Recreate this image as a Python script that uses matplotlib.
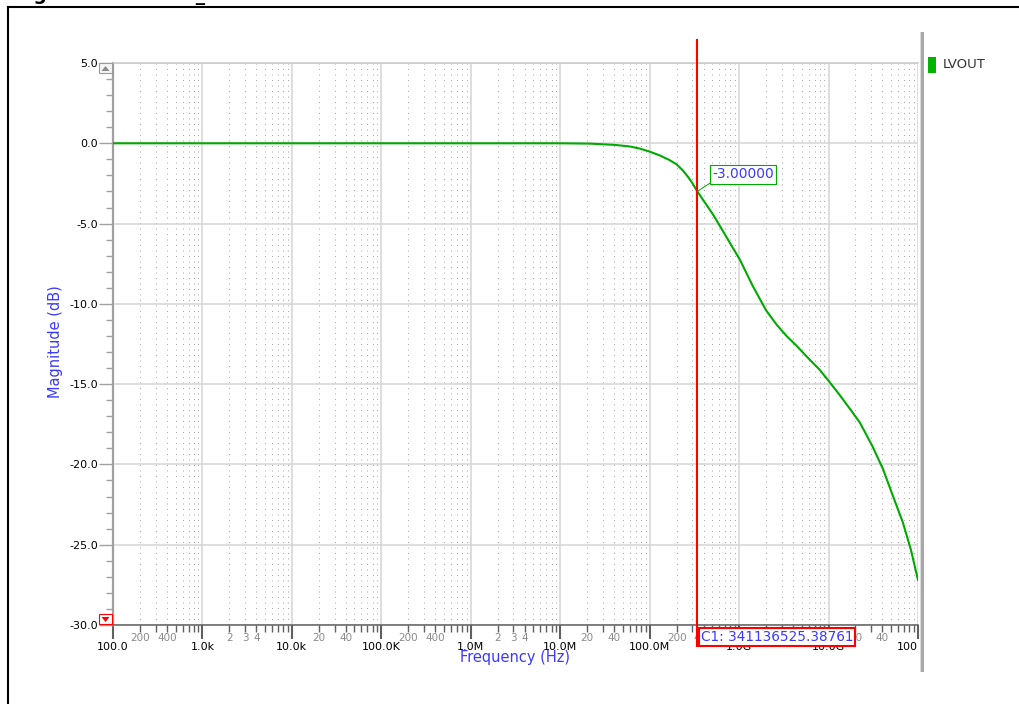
import matplotlib
matplotlib.use('Agg')
import matplotlib.pyplot as plt
import numpy as np

from matplotlib import ticker
from matplotlib.patches import Rectangle, Polygon
from matplotlib.lines import Line2D


# values
freq_hz = [1e2, 1e7, 2.14e7, 4.07e7, 6.03e7, 7.76e7, 1.0e8, 1.29e8, 1.66e8,
           2.0e8, 2.34e8, 2.69e8, 3.02e8, 3.41e8, 5.13e8, 7.24e8, 1.02e9,
           1.41e9, 2.0e9, 2.63e9, 3.39e9, 4.37e9, 5.62e9, 7.94e9, 1.02e10,
           1.32e10, 1.74e10, 2.24e10, 3.09e10, 4.07e10, 5.25e10, 6.76e10,
           8.32e10, 1.0e11]
magnitude_db = [0.0, 0.0, -0.02, -0.1, -0.2, -0.33, -0.52, -0.75, -1.04,
                -1.31, -1.68, -2.1, -2.5, -3.0, -4.45, -5.85, -7.25,
                -8.85, -10.4, -11.3, -12.0, -12.6, -13.25, -14.1, -14.85,
                -15.65, -16.55, -17.4, -18.86, -20.3, -21.97, -23.6,
                -25.3, -27.2]
series_name = 'LVOUT'
cursor_freq = 341136525.38761
cursor_db = -3.0
decade_ticks = [1e2, 1e3, 1e4, 1e5, 1e6, 1e7, 1e8, 1e9, 1e10, 1e11]
decade_labels = ['100.0', '1.0k', '10.0k', '100.0K', '1.0M', '10.0M',
                 '100.0M', '1.0G', '10.0G', '100']
y_ticks = [5.0, 0.0, -5.0, -10.0, -15.0, -20.0, -25.0, -30.0]


# look
W, H = 1020, 704
curve_color = '#00aa00'
legend_green = '#00b400'
label_blue = '#3a3aff'
cursor_red = '#ff0000'
major_grid = '#d4d4d4'
minor_grid = '#a8a8a8'
axis_grey = '#a0a0a0'
axis_dark = '#606060'

plt.rcParams.update({'font.family': 'DejaVu Sans',
                     'axes.unicode_minus': False})


def fx(x):
    return x / W


def fy(y):
    return 1 - y / H


def minor_label(f, pos):
    d = int(np.floor(np.log10(f) + 1e-9))
    m = int(round(f / 10**d))
    k = d % 3
    if k == 0 and m in (2, 3, 4):
        return str(m)
    if k == 1 and m in (2, 4):
        return str(m * 10)
    if k == 2 and m in (2, 4):
        return str(m * 100)
    return ''


fig = plt.figure(figsize=(W / 100, H / 100), dpi=100)
ax = fig.add_axes([fx(113), fy(625), (918 - 113) / W, (625 - 63) / H])

ax.semilogx(freq_hz, magnitude_db, color=curve_color, lw=1.5, zorder=3)

ax.set_xlim(1e2, 1e11)
ax.set_ylim(-30, 5)

# x axis
ax.set_xticks(decade_ticks)
ax.set_xticklabels(decade_labels)
ax.xaxis.set_minor_locator(ticker.LogLocator(base=10, subs=np.arange(2, 10), numticks=100))
ax.xaxis.set_minor_formatter(ticker.FuncFormatter(minor_label))
ax.tick_params(axis='x', which='major', direction='out', length=10, width=1.5,
               color=axis_dark, labelsize=8, labelcolor='black', pad=2)
ax.tick_params(axis='x', which='minor', direction='out', length=5, width=1,
               color=axis_dark, labelsize=7.5, labelcolor='#8a8a8a', pad=1)
ax.get_xticklabels()[-1].set_ha('right')

# y axis
ax.set_yticks(y_ticks)
ax.set_yticklabels(['%.1f' % v for v in y_ticks])
ax.yaxis.set_minor_locator(ticker.MultipleLocator(1))
ax.tick_params(axis='y', which='major', direction='out', length=10, width=1,
               color=axis_grey, labelsize=8, labelcolor='black', pad=1)
ax.tick_params(axis='y', which='minor', direction='out', length=5, width=1,
               color=axis_grey)

# grid
ax.grid(which='major', color=major_grid, lw=1.1, ls='-', zorder=0)
ax.grid(which='minor', axis='x', color=minor_grid, lw=0.72,
        ls=(0, (1, 4.5)), zorder=0)
ax.set_axisbelow(True)

ax.spines['right'].set_visible(False)
ax.spines['top'].set_color('#c8c8c8')
ax.spines['top'].set_linewidth(1.1)
ax.spines['left'].set_color(axis_grey)
ax.spines['left'].set_linewidth(1.6)
ax.spines['bottom'].set_color(axis_dark)
ax.spines['bottom'].set_linewidth(1.1)

ax.set_xlabel('Frequency (Hz)', color=label_blue, fontsize=10.5)
ax.xaxis.set_label_coords(0.5, -0.057)
ax.xaxis.label.set_va('center')
ax.set_ylabel('Magnitude (dB)', color=label_blue, fontsize=10.5)
ax.yaxis.set_label_coords(-0.072, 0.504)
ax.yaxis.label.set_va('center')

# cursor C1
ax.axvline(cursor_freq, ymin=-0.037, ymax=1.041, color=cursor_red, lw=1.5,
           clip_on=False, zorder=4)
ax.annotate('%.5f' % cursor_db, xy=(cursor_freq, cursor_db),
            xytext=(46, 17), textcoords='offset pixels',
            ha='center', va='center', fontsize=10, color=label_blue,
            bbox=dict(boxstyle='square,pad=0.15', fc='white', ec=curve_color, lw=0.8),
            arrowprops=dict(arrowstyle='-', color=curve_color, lw=0.7,
                            relpos=(0, 0), shrinkA=0, shrinkB=0),
            zorder=6)
fig.text(fx(701), fy(637), 'C1: %.5f' % cursor_freq, ha='left', va='center',
         fontsize=9.8, color=label_blue, zorder=10,
         bbox=dict(boxstyle='square,pad=0.12', fc='white', ec=cursor_red, lw=1.5))

# scroll buttons on the y axis
fig.add_artist(Rectangle((fx(99), fy(73)), 13 / W, 10 / H, transform=fig.transFigure,
                         fc='#f4f4f4', ec='#9a9a9a', lw=0.8))
fig.add_artist(Polygon([(fx(101.5), fy(71)), (fx(109.5), fy(71)), (fx(105.5), fy(66))],
                       closed=True, transform=fig.transFigure, fc='#8a8a8a', ec='none'))
fig.add_artist(Rectangle((fx(99), fy(624)), 13 / W, 10 / H, transform=fig.transFigure,
                         fc='white', ec=cursor_red, lw=0.8))
fig.add_artist(Polygon([(fx(101.5), fy(617)), (fx(109.5), fy(617)), (fx(105.5), fy(622))],
                       closed=True, transform=fig.transFigure, fc=cursor_red, ec='none'))

# legend panel
fig.add_artist(Rectangle((fx(920), fy(672)), 1.5 / W, 640 / H, transform=fig.transFigure,
                         fc='#dadada', ec='none'))
fig.add_artist(Rectangle((fx(921.5), fy(672)), 2.5 / W, 640 / H, transform=fig.transFigure,
                         fc='#a8a8a8', ec='none'))
fig.add_artist(Rectangle((fx(928), fy(73)), 8 / W, 16 / H, transform=fig.transFigure,
                         fc=legend_green, ec='none'))
fig.text(fx(943), fy(65), series_name, ha='left', va='center', fontsize=9.5, color='#333333')

# document frame and the clipped caption above it
fig.add_artist(Line2D([fx(8), 1], [fy(7), fy(7)], color='black', lw=1.5,
                      transform=fig.transFigure))
fig.add_artist(Line2D([fx(8), fx(8)], [fy(7), 0], color='black', lw=1.5,
                      transform=fig.transFigure))
fig.text(fx(14), 1.0, 'Figure 12. LVOUT_A Bandwidth', ha='left', va='baseline',
         fontsize=13.5, fontweight='bold', color='black')

plt.savefig('out.png', dpi=100)
